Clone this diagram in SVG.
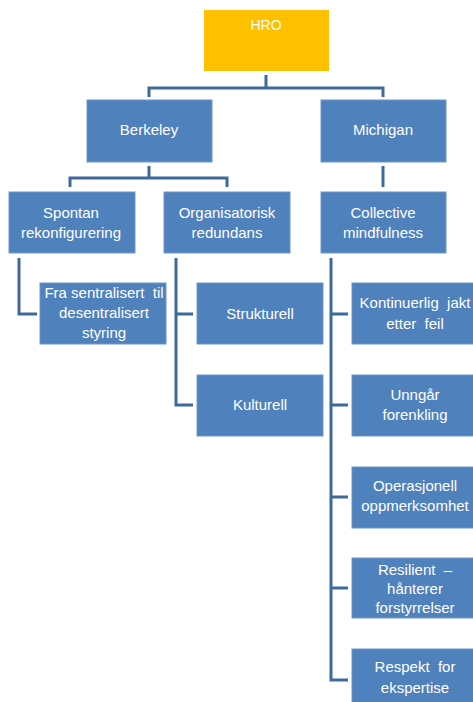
<svg xmlns="http://www.w3.org/2000/svg" width="473" height="702" viewBox="0 0 473 702" xml:space="preserve">
<style>
.b{fill:#4F81BD;stroke:#6E97C8;stroke-width:1}
.t{font-family:"Liberation Sans",Arial,sans-serif;font-size:15px;fill:#fff;text-anchor:middle;white-space:pre}
.c{fill:none;stroke:#3D6A99;stroke-width:3}
</style>
<rect width="473" height="702" fill="#fff"/>
<g id="connectors">
<path class="c" d="M266 75V88M149 97V88H383V97"/>
<path class="c" d="M149 166V178M70 187V178H227V187"/>
<path class="c" d="M383 166V187"/>
<path class="c" d="M19 258V314H37"/>
<path class="c" d="M176 258V405H193M176 314H193"/>
<path class="c" d="M331 258V680H348M331 314H348M331 405H348M331 497H348M331 588H348"/>
</g>
<g id="hro"><rect x="204" y="10" width="125" height="61" fill="#FFC000"/><text class="t" x="266" y="30" style="font-size:14px">HRO</text></g>
<g id="berkeley"><rect class="b" x="87" y="100" width="125" height="62"/><text class="t" x="149" y="135">Berkeley</text></g>
<g id="michigan"><rect class="b" x="321" y="100" width="125" height="62"/><text class="t" x="383" y="135">Michigan</text></g>
<g id="spontan"><rect class="b" x="9" y="192" width="126" height="61"/><text class="t" x="71" y="218">Spontan</text><text class="t" x="71" y="238">rekonfigurering</text></g>
<g id="organisatorisk"><rect class="b" x="164" y="192" width="126" height="61"/><text class="t" x="227" y="218">Organisatorisk</text><text class="t" x="227" y="238">redundans</text></g>
<g id="collective"><rect class="b" x="321" y="192" width="125" height="61"/><text class="t" x="383" y="218">Collective</text><text class="t" x="383" y="238">mindfulness</text></g>
<g id="fra"><rect class="b" x="40" y="283" width="126" height="61"/><text class="t" x="104" y="298">Fra sentralisert  til</text><text class="t" x="104" y="318">desentralisert</text><text class="t" x="104" y="338">styring</text></g>
<g id="strukturell"><rect class="b" x="197" y="283" width="126" height="61"/><text class="t" x="260" y="319">Strukturell</text></g>
<g id="kulturell"><rect class="b" x="197" y="375" width="126" height="61"/><text class="t" x="260" y="410">Kulturell</text></g>
<g id="kontinuerlig"><rect class="b" x="352" y="283" width="126" height="61"/><text class="t" x="415" y="308">Kontinuerlig  jakt</text><text class="t" x="415" y="329">etter  feil</text></g>
<g id="unngar"><rect class="b" x="352" y="375" width="126" height="61"/><text class="t" x="415" y="400">Unngår</text><text class="t" x="415" y="420">forenkling</text></g>
<g id="operasjonell"><rect class="b" x="352" y="467" width="126" height="61"/><text class="t" x="415" y="491">Operasjonell</text><text class="t" x="415" y="511">oppmerksomhet</text></g>
<g id="resilient"><rect class="b" x="352" y="558" width="126" height="60"/><text class="t" x="415" y="575">Resilient  –</text><text class="t" x="415" y="594">hånterer</text><text class="t" x="415" y="613">forstyrrelser</text></g>
<g id="respekt"><rect class="b" x="352" y="649" width="126" height="60"/><text class="t" x="415" y="672">Respekt  for</text><text class="t" x="415" y="693">ekspertise</text></g>
</svg>
